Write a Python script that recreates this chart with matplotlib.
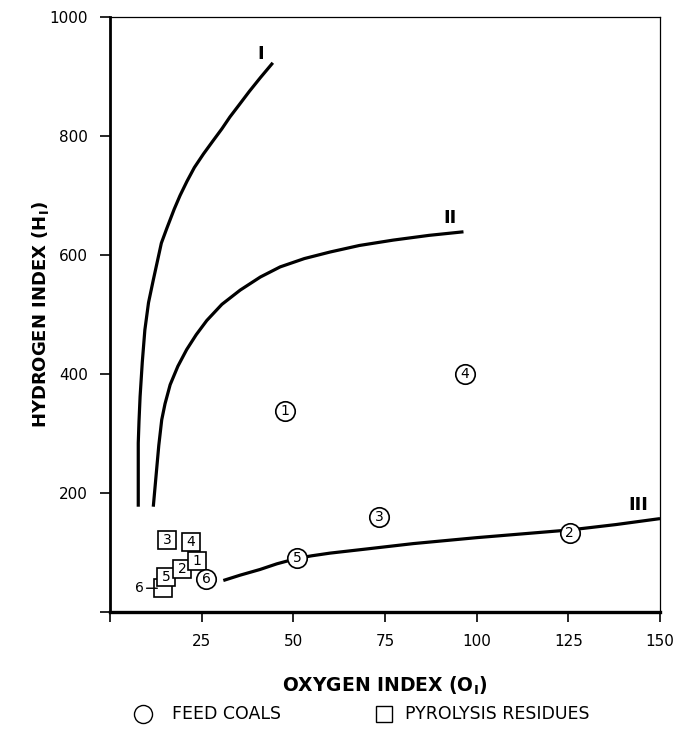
import matplotlib
matplotlib.use("Agg")
import matplotlib.pyplot as plt
from matplotlib.lines import Line2D

# Kerogen type evolution curves (Oxygen index, Hydrogen index)
type1_oi = [7.7, 7.7, 7.9, 8.2, 8.8, 9.5, 10.5, 11.8, 14.0, 15.5, 17.5, 19.1,
            21.0, 23.0, 25.5, 28.1, 30.5, 32.7, 35.3, 38.0, 41.0, 44.4]
type1_hi = [177, 284, 320, 362, 420, 474, 520, 558, 620, 645, 677, 700,
            724, 747, 770, 792, 812, 832, 853, 875, 898, 923]

type2_oi = [11.8, 12.7, 13.3, 14.1, 15.0, 16.4, 18.5, 20.9, 23.5, 26.4, 30.5,
            35.5, 41.0, 46.4, 53.0, 60.0, 68.0, 77.2, 87.0, 96.4]
type2_hi = [177, 239, 280, 323, 350, 382, 413, 441, 466, 490, 517,
            541, 563, 580, 594, 605, 616, 625, 633, 639]

type3_oi = [30.9, 35.5, 40.9, 45.5, 50.9, 55.0, 60.0, 70.0, 82.7, 100.0, 125.5, 138.0, 150.0]
type3_hi = [53, 62, 71.5, 81, 90, 94.5, 99, 106, 115, 125, 138, 147, 157]

# Feed coals
coal_ids = ["1", "2", "3", "4", "5", "6"]
coal_oi = [47.7, 125.4, 73.4, 96.8, 51.0, 26.2]
coal_hi = [338, 133, 160, 400, 91, 55]

# Pyrolysis residues (drawn back to front)
res_ids = ["6", "5", "2", "1", "3", "4"]
res_oi = [14.5, 15.4, 19.7, 23.6, 15.5, 22.0]
res_hi = [40, 59, 72, 86, 121, 118]

x_ticks = [0, 25, 50, 75, 100, 125, 150]
x_tick_labels = ["", "25", "50", "75", "100", "125", "150"]
y_ticks = [0, 200, 400, 600, 800, 1000]
y_tick_labels = ["", "200", "400", "600", "800", "1000"]

plt.rcParams["font.family"] = ["DejaVu Sans"]

fig = plt.figure(figsize=(6.8, 7.35), dpi=100)
ax = fig.add_axes([0.1618, 0.1673, 0.8088, 0.8096])
ax.set_xlim(0, 150)
ax.set_ylim(0, 1000)

for xs, ys in ((type1_oi, type1_hi), (type2_oi, type2_hi), (type3_oi, type3_hi)):
    ax.plot(xs, ys, color="black", lw=2.3, solid_capstyle="butt",
            solid_joinstyle="round", zorder=2)

ax.text(41.1, 938, "I", fontsize=13, fontweight="bold", ha="center", va="center")
ax.text(92.7, 663, "II", fontsize=13, fontweight="bold", ha="center", va="center")
ax.text(144.0, 180, "III", fontsize=13, fontweight="bold", ha="center", va="center")

for lab, x, y in zip(res_ids, res_oi, res_hi):
    ax.plot(x, y, marker="s", ms=12.5, mfc="white", mec="black", mew=1.2,
            ls="none", zorder=3, clip_on=False)
    if lab == "6":
        ax.annotate("6", xy=(x - 1.6, y), xytext=(x - 6.5, y),
                    fontsize=10, ha="center", va="center",
                    arrowprops=dict(arrowstyle="-", lw=1.0, color="black",
                                    shrinkA=0, shrinkB=0), zorder=3)
    else:
        ax.text(x, y, lab, fontsize=10, ha="center", va="center", zorder=4)

for lab, x, y in zip(coal_ids, coal_oi, coal_hi):
    ax.plot(x, y, marker="o", ms=14, mfc="white", mec="black", mew=1.2,
            ls="none", zorder=5)
    ax.text(x, y, lab, fontsize=10, ha="center", va="center", zorder=6)

ax.spines["left"].set_linewidth(2.0)
ax.spines["bottom"].set_linewidth(2.4)
ax.spines["top"].set_linewidth(0.9)
ax.spines["right"].set_linewidth(0.9)

ax.set_xticks(x_ticks)
ax.set_xticklabels(x_tick_labels)
ax.set_yticks(y_ticks)
ax.set_yticklabels(y_tick_labels)
ax.tick_params(direction="out", length=7, width=1.2, labelsize=11, pad=9)

ax.set_xlabel(r"OXYGEN INDEX (O$_\mathbf{I}$)", fontsize=13.5, fontweight="bold", labelpad=18)
ax.set_ylabel(r"HYDROGEN INDEX (H$_\mathbf{I}$)", fontsize=13, fontweight="bold")
ax.yaxis.set_label_coords(-0.108, 0.5)

# Key row below the axes
key_y = 1 - 714 / 735
fig.add_artist(Line2D([143 / 680], [key_y], marker="o", ms=13, mfc="white",
                      mec="black", mew=1.0, ls="none", transform=fig.transFigure))
fig.text(172 / 680, key_y, "FEED COALS", fontsize=12.5, ha="left", va="center")
fig.add_artist(Line2D([384 / 680], [key_y], marker="s", ms=12, mfc="white",
                      mec="black", mew=1.0, ls="none", transform=fig.transFigure))
fig.text(405 / 680, key_y, "PYROLYSIS RESIDUES", fontsize=12.5, ha="left", va="center")

fig.savefig("out.png", dpi=100)
